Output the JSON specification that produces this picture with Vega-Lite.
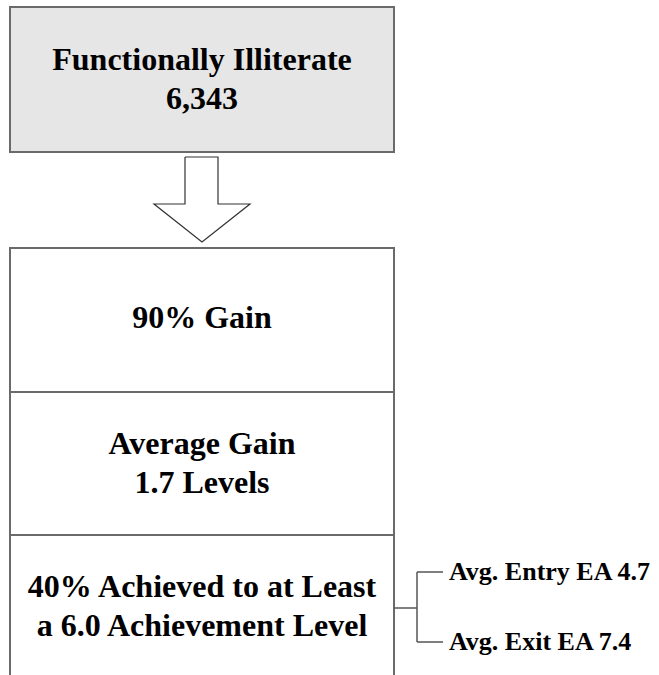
{
  "$schema": "https://vega.github.io/schema/vega-lite/v6.json",
  "width": 659,
  "height": 675,
  "padding": 0,
  "autosize": {"type": "none"},
  "background": "white",
  "config": {"view": {"stroke": null}},
  "datasets": {
    "boxes": [
      {"box": "Functionally Illiterate", "x1": 10, "x2": 394, "y1": 7, "y2": 152, "fill": "#e6e6e6"},
      {"box": "90% Gain", "x1": 10, "x2": 394, "y1": 248, "y2": 392, "fill": "#ffffff"},
      {"box": "Average Gain", "x1": 10, "x2": 394, "y1": 392, "y2": 535, "fill": "#ffffff"},
      {"box": "40% Achieved", "x1": 10, "x2": 394, "y1": 535, "y2": 700, "fill": "#ffffff"}
    ],
    "arrow": [
      {"i": 0, "x": 185, "y": 157},
      {"i": 1, "x": 218, "y": 157},
      {"i": 2, "x": 218, "y": 204},
      {"i": 3, "x": 250, "y": 204},
      {"i": 4, "x": 202, "y": 242},
      {"i": 5, "x": 154, "y": 204},
      {"i": 6, "x": 185, "y": 204},
      {"i": 7, "x": 185, "y": 157}
    ],
    "bracket": [
      {"x1": 394, "x2": 417, "y1": 608, "y2": 608},
      {"x1": 417, "x2": 417, "y1": 572, "y2": 642},
      {"x1": 417, "x2": 443, "y1": 572, "y2": 572},
      {"x1": 417, "x2": 443, "y1": 642, "y2": 642}
    ],
    "main": [
      {"label": "Functionally Illiterate\n6,343", "x": 202, "y": 70},
      {"label": "90% Gain", "x": 202, "y": 328},
      {"label": "Average Gain\n1.7 Levels", "x": 202, "y": 454},
      {"label": "40% Achieved to at Least\na 6.0 Achievement Level", "x": 202, "y": 597}
    ],
    "side": [
      {"label": "Avg. Entry EA 4.7", "x": 449, "y": 572},
      {"label": "Avg. Exit EA 7.4", "x": 449, "y": 642}
    ]
  },
  "layer": [
    {
      "data": {"name": "boxes"},
      "mark": {"type": "rect", "stroke": "#6a6a6a", "strokeWidth": 2, "clip": true},
      "encoding": {
        "x": {"field": "x1", "type": "quantitative", "scale": {"domain": [0, 659], "zero": false, "nice": false}, "axis": null},
        "x2": {"field": "x2"},
        "y": {"field": "y1", "type": "quantitative", "scale": {"domain": [0, 675], "reverse": true, "zero": false, "nice": false}, "axis": null},
        "y2": {"field": "y2"},
        "fill": {"field": "fill", "type": "nominal", "scale": null}
      }
    },
    {
      "data": {"name": "arrow"},
      "mark": {"type": "line", "stroke": "#333333", "strokeWidth": 1.2},
      "encoding": {
        "x": {"field": "x", "type": "quantitative", "scale": {"domain": [0, 659], "zero": false, "nice": false}, "axis": null},
        "y": {"field": "y", "type": "quantitative", "scale": {"domain": [0, 675], "reverse": true, "zero": false, "nice": false}, "axis": null},
        "order": {"field": "i", "type": "quantitative"}
      }
    },
    {
      "data": {"name": "bracket"},
      "mark": {"type": "rule", "stroke": "#555555", "strokeWidth": 1.5},
      "encoding": {
        "x": {"field": "x1", "type": "quantitative", "scale": {"domain": [0, 659], "zero": false, "nice": false}, "axis": null},
        "x2": {"field": "x2"},
        "y": {"field": "y1", "type": "quantitative", "scale": {"domain": [0, 675], "reverse": true, "zero": false, "nice": false}, "axis": null},
        "y2": {"field": "y2"}
      }
    },
    {
      "data": {"name": "main"},
      "mark": {"type": "text", "font": "serif", "fontWeight": "bold", "fontSize": 32, "align": "center", "baseline": "alphabetic", "lineBreak": "\n", "lineHeight": 38.5, "color": "#000000"},
      "encoding": {
        "x": {"field": "x", "type": "quantitative", "scale": {"domain": [0, 659], "zero": false, "nice": false}, "axis": null},
        "y": {"field": "y", "type": "quantitative", "scale": {"domain": [0, 675], "reverse": true, "zero": false, "nice": false}, "axis": null},
        "text": {"field": "label", "type": "nominal"}
      }
    },
    {
      "data": {"name": "side"},
      "mark": {"type": "text", "font": "Times New Roman", "fontWeight": "bold", "fontSize": 26, "align": "left", "baseline": "middle", "color": "#000000"},
      "encoding": {
        "x": {"field": "x", "type": "quantitative", "scale": {"domain": [0, 659], "zero": false, "nice": false}, "axis": null},
        "y": {"field": "y", "type": "quantitative", "scale": {"domain": [0, 675], "reverse": true, "zero": false, "nice": false}, "axis": null},
        "text": {"field": "label", "type": "nominal"}
      }
    }
  ]
}
